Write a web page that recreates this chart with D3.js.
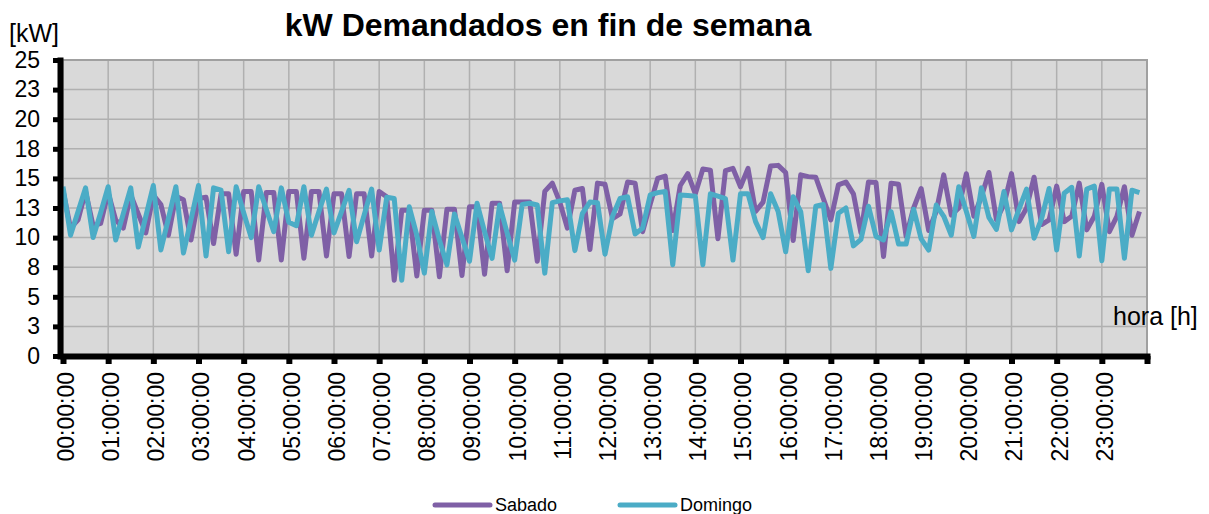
<!DOCTYPE html>
<html>
<head>
<meta charset="utf-8">
<script src="https://cdn.jsdelivr.net/npm/d3@7"></script>
<style>
  body { margin: 0; background: #fff; }
  text { font-family: "Liberation Sans", Arial, sans-serif; }
</style>
</head>
<body>
<svg id="chart" width="1209" height="514"></svg>
<script>
// hour labels shown on the category axis (one every 6 samples of 10 min)
var hourLabels = ["00:00:00","01:00:00","02:00:00","03:00:00","04:00:00","05:00:00",
  "06:00:00","07:00:00","08:00:00","09:00:00","10:00:00","11:00:00","12:00:00",
  "13:00:00","14:00:00","15:00:00","16:00:00","17:00:00","18:00:00","19:00:00",
  "20:00:00","21:00:00","22:00:00","23:00:00"];

var yTickValues = [0, 2.5, 5, 7.5, 10, 12.5, 15, 17.5, 20, 22.5, 25];
var yTickLabels = ["0","3","5","8","10","13","15","18","20","23","25"];

var seriesNames = ["Sabado", "Domingo"];

// kW every 10 minutes
var sabado = [
  14.0,10.8,11.5,13.9,11.0,11.2,13.8,11.5,10.8,13.6,12.0,10.4,
  13.6,12.8,10.2,13.5,13.2,9.8,13.3,13.4,9.5,13.7,13.7,8.6,
  13.9,13.9,8.1,13.8,13.8,8.1,13.9,13.9,8.25,13.9,13.9,8.45,
  13.7,13.7,8.4,13.7,13.7,8.45,13.9,13.45,6.4,12.3,12.3,6.75,
  12.3,12.3,6.7,12.4,12.4,6.8,12.6,12.6,6.9,12.9,12.9,7.2,
  13.0,13.0,13.0,8.0,13.9,14.6,13.0,10.8,14.0,14.15,9.0,14.6,
  14.5,11.6,12.0,14.7,14.6,10.5,12.8,15.0,15.2,10.6,14.4,15.4,
  13.7,15.8,15.7,9.9,15.65,15.85,14.3,15.85,12.2,13.0,16.05,16.1,
  15.5,9.75,15.3,15.15,15.1,13.3,11.5,14.45,14.7,13.7,10.4,14.7,
  14.65,8.4,14.6,14.5,10.1,12.5,14.15,10.6,12.2,15.3,11.9,12.5,
  15.4,11.8,13.45,15.5,11.5,12.8,15.4,11.35,12.5,15.1,11.1,11.5,
  14.35,11.35,11.8,14.6,10.65,11.8,14.5,10.5,11.8,14.3,10.2,12.2
];

var domingo = [
  14.3,10.2,12.2,14.2,10.0,12.1,14.3,9.8,12.0,14.2,9.2,11.8,
  14.4,8.95,11.6,14.3,8.7,11.5,14.4,8.45,14.2,14.0,8.8,14.3,
  12.1,10.0,14.3,12.4,10.5,14.2,11.3,11.0,14.3,10.2,12.2,14.1,
  10.4,12.2,14.0,9.65,11.9,14.1,8.95,13.4,13.3,6.4,12.6,10.2,
  7.0,12.2,9.8,7.7,12.0,10.0,8.0,12.9,10.5,8.25,12.75,10.4,
  8.1,12.8,12.9,12.75,7.0,12.95,13.1,13.2,8.9,12.05,13.0,12.95,
  8.6,11.8,13.3,13.45,10.3,10.8,13.6,13.8,13.9,7.7,13.6,13.55,
  13.5,7.7,13.7,13.5,13.3,8.1,13.7,13.7,11.35,10.0,13.7,12.2,
  8.8,13.45,12.2,7.2,12.65,12.8,7.4,12.05,12.5,9.3,9.85,12.65,
  10.1,9.8,12.2,9.45,9.45,12.4,9.9,8.95,12.75,11.8,10.2,14.3,
  12.2,10.1,14.2,11.7,10.7,13.9,10.65,12.4,14.1,9.95,11.6,14.15,
  8.95,13.75,14.25,8.45,14.1,14.35,8.05,14.1,14.1,8.25,14.0,13.8
];

var colors = { Sabado: "#7f60a6", Domingo: "#4bacc6" };

var svg = d3.select("#chart");
svg.append("rect").attr("width", 1209).attr("height", 514).attr("fill", "#fff");

var x = d3.scaleLinear().domain([0, 144]).range([63, 1147]);
var y = d3.scaleLinear().domain([0, 25]).range([356, 60]);

var hourTicks = d3.range(0, 145, 6);

// plot area
svg.append("rect")
  .attr("x", x(0)).attr("y", y(25))
  .attr("width", x(144) - x(0)).attr("height", y(0) - y(25))
  .attr("fill", "#d9d9d9");

var grid = svg.append("g").attr("stroke", "#b0b0b0").attr("stroke-width", 1.5);
grid.selectAll("line.h").data(yTickValues).enter().append("line")
  .attr("x1", x(0)).attr("x2", x(144))
  .attr("y1", function(d){ return y(d); }).attr("y2", function(d){ return y(d); });
grid.selectAll("line.v").data(hourTicks).enter().append("line")
  .attr("y1", y(0)).attr("y2", y(25))
  .attr("x1", function(d){ return x(d); }).attr("x2", function(d){ return x(d); });

// outer border (top / right)
svg.append("path")
  .attr("d", "M" + x(0) + "," + y(25) + "H" + x(144) + "V" + y(0))
  .attr("fill", "none").attr("stroke", "#a0a0a0").attr("stroke-width", 2);

// lines
var line = d3.line()
  .x(function(d, i){ return x(i); })
  .y(function(d){ return y(d); });

[["Sabado", sabado], ["Domingo", domingo]].forEach(function(s){
  svg.append("path")
    .datum(s[1])
    .attr("d", line)
    .attr("fill", "none")
    .attr("stroke", colors[s[0]])
    .attr("stroke-width", 5)
    .attr("stroke-linejoin", "round");
});

// y axis
var yAxis = d3.axisLeft(y)
  .tickValues(yTickValues)
  .tickFormat(function(d, i){ return yTickLabels[i]; })
  .tickSize(7).tickSizeOuter(0).tickPadding(13);
var gy = svg.append("g").attr("transform", "translate(60,0)").call(yAxis);
gy.select(".domain").attr("stroke", "#000").attr("stroke-width", 6).attr("stroke-linecap", "square");
gy.selectAll(".tick line").attr("stroke", "#000").attr("stroke-width", 5);
gy.selectAll(".tick text").attr("font-size", 23).attr("fill", "#000")
  .attr("font-family", "Liberation Sans, Arial, sans-serif");

// x axis
var xAxis = d3.axisBottom(x)
  .tickValues(hourTicks)
  .tickFormat(function(d){ return d < 144 ? hourLabels[d / 6] : ""; })
  .tickSize(8).tickSizeOuter(0);
var gx = svg.append("g").attr("transform", "translate(0,356)").call(xAxis);
gx.select(".domain").attr("stroke", "#000").attr("stroke-width", 6).attr("stroke-linecap", "square");
gx.selectAll(".tick line").attr("stroke", "#000").attr("stroke-width", 6);
gx.selectAll(".tick text")
  .attr("font-size", 23).attr("fill", "#000")
  .attr("font-family", "Liberation Sans, Arial, sans-serif")
  .attr("transform", "rotate(-90)")
  .attr("x", -16).attr("y", 0).attr("dy", "0.45em")
  .style("text-anchor", "end");

// titles
svg.append("text")
  .attr("x", 548).attr("y", 36)
  .attr("text-anchor", "middle")
  .attr("font-size", 32).attr("font-weight", "bold")
  .text("kW Demandados en fin de semana");

svg.append("text").attr("x", 9).attr("y", 42).attr("font-size", 25).text("[kW]");
svg.append("text").attr("x", 1113).attr("y", 325).attr("font-size", 25).text("hora [h]");

// legend (sits on the bottom edge, as in the original)
var legendX = [435, 620];
seriesNames.forEach(function(name, i){
  var g = svg.append("g").attr("transform", "translate(" + legendX[i] + ",0)");
  g.append("line").attr("x1", 0).attr("x2", 55).attr("y1", 505).attr("y2", 505)
    .attr("stroke", colors[name]).attr("stroke-width", 5).attr("stroke-linecap", "round");
  g.append("text").attr("x", 60).attr("y", 511).attr("font-size", 18).text(name);
});
</script>
</body>
</html>
